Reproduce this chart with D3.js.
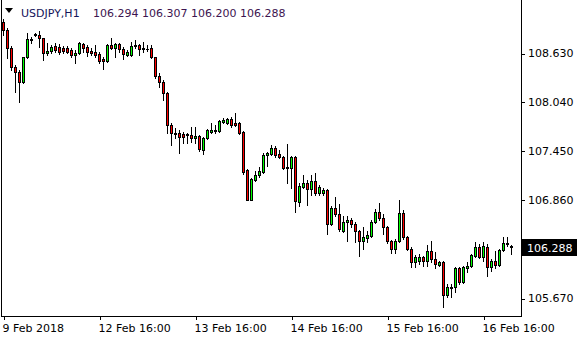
<!DOCTYPE html>
<html>
<head>
<meta charset="utf-8">
<script src="https://cdn.jsdelivr.net/npm/d3@7"></script>
<style>
  html, body { margin: 0; padding: 0; background: #fff; }
  svg { display: block; }
  text { font-family: "DejaVu Sans", sans-serif; font-size: 11px; fill: #000; }
</style>
</head>
<body>
<div class="chart"></div>
<script>
// USDJPY H1, 9 Feb 2018 16:00 .. 16 Feb 2018 23:00
const symbol = "USDJPY,H1"
const lastBar = [106.294, 106.307, 106.200, 106.288]

const open = [
  109.003, 108.907, 108.690, 108.461, 108.401, 108.281, 108.582, 108.786, 108.847, 108.847,
  108.810, 108.630, 108.654, 108.714, 108.702, 108.690, 108.690, 108.666, 108.606, 108.630,
  108.738, 108.702, 108.654, 108.642, 108.618, 108.558, 108.533, 108.726, 108.690, 108.738,
  108.678, 108.606, 108.606, 108.714, 108.726, 108.690, 108.678, 108.690, 108.582, 108.353,
  108.281, 108.148, 107.763, 107.667, 107.667, 107.655, 107.655, 107.642, 107.606, 107.630,
  107.462, 107.606, 107.679, 107.691, 107.691, 107.799, 107.787, 107.835, 107.787, 107.787,
  107.679, 107.221, 106.860, 107.101, 107.161, 107.197, 107.402, 107.414, 107.486, 107.414,
  107.378, 107.257, 107.245, 107.378, 106.824, 107.016, 107.064, 106.992, 107.089, 106.944,
  106.944, 106.980, 106.559, 106.763, 106.679, 106.474, 106.583, 106.607, 106.559, 106.474,
  106.354, 106.390, 106.414, 106.583, 106.703, 106.631, 106.523, 106.354, 106.258, 106.354,
  106.691, 106.402, 106.258, 106.101, 106.113, 106.161, 106.113, 106.234, 106.137, 106.065,
  106.101, 105.704, 105.788, 105.800, 106.029, 105.860, 106.029, 106.053, 106.173, 106.282,
  106.161, 106.282, 106.041, 106.113, 106.065, 106.246, 106.318, lastBar[0]
]
const high = [
  109.039, 108.931, 108.714, 108.485, 108.425, 108.582, 108.871, 108.822, 108.871, 108.895,
  108.810, 108.750, 108.726, 108.750, 108.738, 108.714, 108.714, 108.690, 108.666, 108.762,
  108.750, 108.726, 108.690, 108.726, 108.642, 108.582, 108.738, 108.810, 108.750, 108.750,
  108.702, 108.666, 108.762, 108.786, 108.738, 108.762, 108.726, 108.726, 108.582, 108.389,
  108.305, 108.160, 107.787, 107.727, 107.703, 107.679, 107.667, 107.739, 107.739, 107.642,
  107.618, 107.715, 107.787, 107.763, 107.823, 107.847, 107.847, 107.859, 107.907, 107.799,
  107.691, 107.233, 107.125, 107.209, 107.257, 107.426, 107.438, 107.522, 107.510, 107.462,
  107.390, 107.534, 107.390, 107.390, 107.064, 107.161, 107.101, 107.161, 107.185, 107.040,
  107.004, 106.992, 106.776, 106.896, 106.800, 106.655, 106.655, 106.631, 106.583, 106.487,
  106.523, 106.474, 106.607, 106.751, 106.812, 106.679, 106.535, 106.366, 106.378, 106.860,
  106.739, 106.414, 106.282, 106.186, 106.198, 106.173, 106.306, 106.354, 106.222, 106.113,
  106.113, 105.836, 105.836, 106.041, 106.041, 106.053, 106.101, 106.198, 106.342, 106.318,
  106.342, 106.318, 106.137, 106.234, 106.258, 106.402, 106.402, lastBar[1]
]
const low = [
  108.847, 108.570, 108.425, 108.160, 108.040, 108.269, 108.570, 108.750, 108.835, 108.702,
  108.546, 108.606, 108.630, 108.642, 108.618, 108.630, 108.630, 108.582, 108.509, 108.618,
  108.642, 108.594, 108.606, 108.582, 108.509, 108.437, 108.521, 108.678, 108.582, 108.642,
  108.558, 108.594, 108.594, 108.690, 108.606, 108.642, 108.654, 108.570, 108.329, 108.220,
  108.064, 107.667, 107.522, 107.606, 107.426, 107.546, 107.546, 107.558, 107.546, 107.450,
  107.414, 107.594, 107.667, 107.667, 107.679, 107.787, 107.775, 107.739, 107.751, 107.655,
  107.173, 106.848, 106.848, 107.089, 107.137, 107.185, 107.269, 107.402, 107.378, 107.366,
  107.233, 107.064, 107.004, 106.715, 106.776, 107.004, 106.788, 106.920, 106.920, 106.920,
  106.920, 106.438, 106.547, 106.655, 106.474, 106.462, 106.354, 106.523, 106.342, 106.173,
  106.258, 106.342, 106.402, 106.571, 106.607, 106.438, 106.330, 106.210, 106.210, 106.342,
  106.378, 106.246, 106.041, 106.041, 106.077, 106.053, 106.053, 106.101, 106.029, 106.053,
  105.560, 105.680, 105.680, 105.740, 105.836, 105.848, 105.980, 106.041, 106.161, 106.149,
  106.113, 105.932, 105.992, 106.029, 106.053, 106.234, 106.294, lastBar[2]
]
const close = [
  108.907, 108.690, 108.461, 108.401, 108.281, 108.582, 108.798, 108.798, 108.859, 108.810,
  108.630, 108.654, 108.702, 108.666, 108.642, 108.654, 108.642, 108.606, 108.630, 108.750,
  108.690, 108.642, 108.630, 108.606, 108.533, 108.533, 108.726, 108.690, 108.738, 108.678,
  108.618, 108.642, 108.714, 108.726, 108.678, 108.678, 108.676, 108.582, 108.353, 108.281,
  108.148, 107.763, 107.667, 107.655, 107.618, 107.618, 107.642, 107.606, 107.630, 107.474,
  107.606, 107.703, 107.703, 107.703, 107.811, 107.823, 107.835, 107.763, 107.763, 107.667,
  107.197, 106.860, 107.113, 107.161, 107.209, 107.402, 107.426, 107.486, 107.402, 107.378,
  107.245, 107.245, 107.378, 106.836, 107.028, 107.064, 106.992, 107.089, 106.944, 107.016,
  106.980, 106.559, 106.763, 106.679, 106.499, 106.583, 106.607, 106.559, 106.474, 106.354,
  106.402, 106.426, 106.583, 106.703, 106.631, 106.523, 106.354, 106.258, 106.354, 106.691,
  106.402, 106.258, 106.101, 106.161, 106.161, 106.113, 106.234, 106.137, 106.077, 106.101,
  105.704, 105.800, 105.800, 106.029, 105.860, 106.041, 106.053, 106.186, 106.282, 106.161,
  106.294, 106.041, 106.113, 106.065, 106.246, 106.330, 106.330, lastBar[3]
]

// price scale labels and time labels (every 24 bars)
const priceTicks = [108.630, 108.040, 107.450, 106.860, 105.670]
const timeTickBars = [0, 24, 48, 72, 96, 120]
const timeLabels = ["9 Feb 2018", "12 Feb 16:00", "13 Feb 16:00", "14 Feb 16:00", "15 Feb 16:00", "16 Feb 16:00"]

const W = 580, H = 340
const frameRight = 521, frameBottom = 316

const svg = d3.select(".chart").append("svg")
  .attr("width", W)
  .attr("height", H)
  .attr("shape-rendering", "crispEdges")

const x = d3.scaleLinear().domain([0, open.length - 1]).range([3, 511])
const y = d3.scaleLinear().domain([105.670, 108.630]).range([298, 53])

// frame
svg.append("rect").attr("x", 1).attr("y", 0).attr("width", 1).attr("height", frameBottom + 1).attr("fill", "#000")
svg.append("rect").attr("x", 1).attr("y", frameBottom).attr("width", frameRight).attr("height", 1).attr("fill", "#000")
svg.append("rect").attr("x", frameRight).attr("y", 0).attr("width", 1).attr("height", frameBottom + 1).attr("fill", "#000")

// candles
const bars = d3.range(open.length)
const candle = svg.append("g").selectAll("g")
  .data(bars)
  .enter()
  .append("g")

candle.append("rect")
  .attr("x", i => Math.round(x(i)))
  .attr("y", i => Math.round(y(high[i])))
  .attr("width", 1)
  .attr("height", i => Math.round(y(low[i])) - Math.round(y(high[i])) + 1)
  .attr("fill", "#000")

candle.append("rect")
  .attr("x", i => Math.round(x(i)) - 1)
  .attr("y", i => Math.round(y(Math.max(open[i], close[i]))))
  .attr("width", 3)
  .attr("height", i => Math.round(y(Math.min(open[i], close[i]))) - Math.round(y(Math.max(open[i], close[i]))) + 1)
  .attr("fill", "#000")

candle.filter(i => Math.round(y(Math.min(open[i], close[i]))) - Math.round(y(Math.max(open[i], close[i]))) >= 2)
  .append("rect")
  .attr("x", i => Math.round(x(i)))
  .attr("y", i => Math.round(y(Math.max(open[i], close[i]))) + 1)
  .attr("width", 1)
  .attr("height", i => Math.round(y(Math.min(open[i], close[i]))) - Math.round(y(Math.max(open[i], close[i]))) - 1)
  .attr("fill", i => close[i] >= open[i] ? "#00ff00" : "#ff0000")

// price axis
const yAxis = svg.append("g")
  .attr("transform", `translate(${frameRight + 1},0)`)
  .call(d3.axisRight(y).tickValues(priceTicks).tickSize(3).tickPadding(3).tickFormat(d3.format(".3f")))
yAxis.select(".domain").remove()
yAxis.selectAll("line").attr("stroke", "#000").attr("transform", "translate(0,0.5)")
yAxis.selectAll("text").attr("font-family", "DejaVu Sans").attr("font-size", 11).attr("fill", "#000")

// current price box
const yLast = Math.round(y(lastBar[3]))
svg.append("rect")
  .attr("x", frameRight + 1)
  .attr("y", yLast - 8)
  .attr("width", 55)
  .attr("height", 17)
  .attr("fill", "#000")
svg.append("text")
  .attr("x", frameRight + 6)
  .attr("y", yLast + 4.5)
  .style("fill", "#fff")
  .text(d3.format(".3f")(lastBar[3]))

// time axis
const xAxis = svg.append("g")
  .attr("transform", `translate(0,${frameBottom + 1})`)
  .call(d3.axisBottom(x).tickValues(timeTickBars).tickSize(3).tickPadding(4)
    .tickFormat((d, i) => timeLabels[i]))
xAxis.select(".domain").remove()
xAxis.selectAll("line").attr("stroke", "#000").attr("transform", "translate(0.5,0)")
xAxis.selectAll("text")
  .attr("text-anchor", "start")
  .attr("dx", -1)
  .attr("font-family", "DejaVu Sans").attr("font-size", 11).attr("fill", "#000")

// title: ▼ symbol and OHLC of the last bar
svg.append("path")
  .attr("d", "M5,8 L13,8 L9,13 Z")
  .attr("fill", "#000")
  .attr("shape-rendering", "auto")
svg.append("text")
  .attr("x", 21)
  .attr("y", 17)
  .style("fill", "#14145a")
  .text(symbol)
svg.append("text")
  .attr("x", 93)
  .attr("y", 17)
  .style("fill", "#3c1450")
  .text(lastBar.map(d3.format(".3f")).join(" "))
</script>
</body>
</html>
